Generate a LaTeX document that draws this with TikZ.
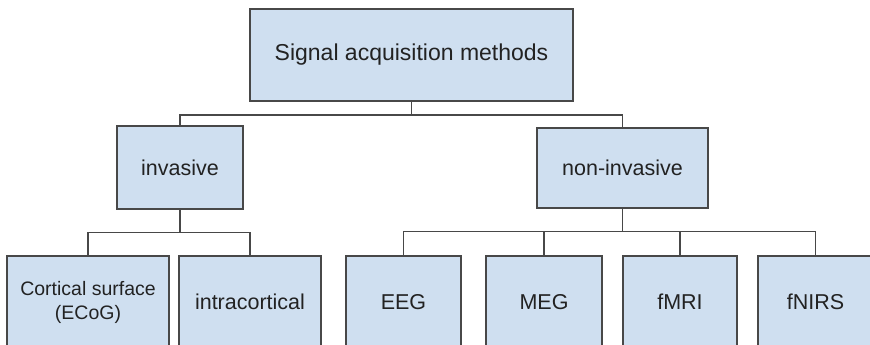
\documentclass[tikz,border=0pt]{standalone}
\usepackage{fontspec}
\setmainfont{Liberation Sans}
\definecolor{boxfill}{RGB}{207,223,240}
\definecolor{boxline}{RGB}{72,72,72}
\definecolor{ink}{RGB}{34,34,34}
\begin{document}
\begin{tikzpicture}[x=1pt,y=-1pt,
  box/.style={draw=boxline, line width=1.6pt, fill=boxfill, inner sep=0pt, outer sep=0pt,
    text=ink, align=center, font=\fontsize{21.5}{24}\selectfont},
  link/.style={draw=boxline, line width=1.4pt}]
  \clip (0,0) rectangle (870,345);
  \fill[white] (0,0) rectangle (870,345);

  % root
  \node[box, minimum width=323pt, minimum height=92pt, font=\fontsize{23}{26}\selectfont]
    (root) at (411.5,55) {Signal acquisition methods};

  % second level
  \node[box, minimum width=126pt, minimum height=83pt] (inv) at (180,167.5) {invasive};
  \node[box, minimum width=171pt, minimum height=80pt] (non) at (622.5,168) {non-invasive};

  % leaves
  \node[box, minimum width=162pt, minimum height=92pt, font=\fontsize{19.5}{24}\selectfont]
    (ecog) at (88,302) {Cortical surface\\(ECoG)};
  \node[box, minimum width=142pt, minimum height=92pt] (intra) at (250,302) {intracortical};
  \node[box, minimum width=115pt, minimum height=92pt] (eeg) at (403.5,302) {EEG};
  \node[box, minimum width=116pt, minimum height=92pt] (meg) at (544,302) {MEG};
  \node[box, minimum width=114pt, minimum height=92pt] (fmri) at (680,302) {fMRI};
  \node[box, minimum width=115pt, minimum height=92pt] (fnirs) at (815.5,302) {fNIRS};

  % branch points
  \coordinate (j0) at (411.5,115);
  \coordinate (j1) at (180,232.5);
  \coordinate (j2) at (622.5,231.5);

  % connectors
  \draw[link] (root.south) -- (j0);
  \draw[link] (inv.north) |- (j0) -| (non.north);

  \draw[link] (inv.south) -- (j1);
  \draw[link] (ecog.north) |- (j1) -| (intra.north);

  \draw[link] (non.south) -- (j2);
  \draw[link] (eeg.north) |- (j2) -| (fnirs.north);
  \draw[link] (meg.north) |- (j2);
  \draw[link] (fmri.north) |- (j2);
\end{tikzpicture}
\end{document}
